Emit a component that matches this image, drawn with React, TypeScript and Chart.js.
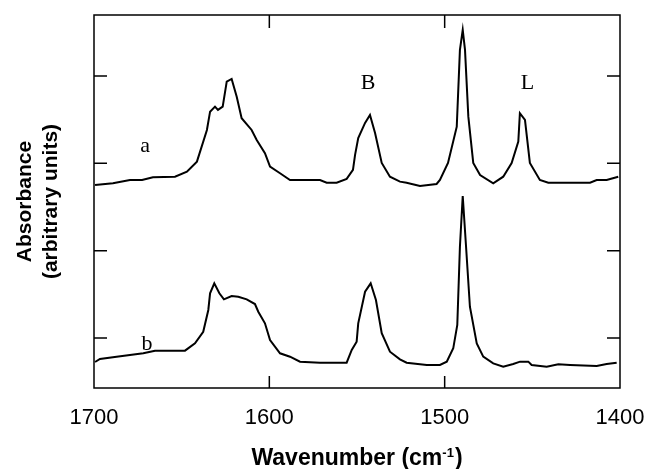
import React, { useEffect, useRef } from "react";
import { Chart, registerables } from "chart.js";

Chart.register(...registerables);

// Spectrum a (upper trace)
const aWavenumber = [
  1699.4, 1689.2, 1679.5, 1672.6, 1666.4, 1653.8, 1647.0, 1641.3, 1635.6, 1633.8,
  1631.0, 1629.3, 1626.6, 1624.3, 1621.5, 1618.6, 1615.8, 1610.1, 1607.2, 1602.5,
  1599.6, 1593.9, 1588.2, 1571.1, 1567.3, 1561.6, 1555.9, 1552.3, 1551.1, 1549.3,
  1545.4, 1542.6, 1539.7, 1535.9, 1531.2, 1525.5, 1521.7, 1514.1, 1504.6, 1502.7,
  1498.1, 1493.1, 1491.3, 1489.7, 1488.4, 1486.5, 1483.7, 1479.8, 1472.3, 1466.6,
  1461.8, 1458.0, 1457.1, 1454.2, 1451.4, 1445.7, 1440.9, 1417.1, 1413.3, 1407.6,
  1401.0,
];
const aAbsorbance = [
  1.752, 1.771, 1.809, 1.809, 1.840, 1.847, 1.904, 2.019, 2.382, 2.591,
  2.649, 2.611, 2.649, 2.935, 2.966, 2.763, 2.516, 2.382, 2.267, 2.115,
  1.962, 1.886, 1.809, 1.809, 1.778, 1.778, 1.821, 1.924, 2.096, 2.290,
  2.462, 2.553, 2.347, 2.004, 1.847, 1.790, 1.778, 1.741, 1.763, 1.809,
  2.004, 2.420, 3.298, 3.527, 3.298, 2.534, 2.004, 1.866, 1.771, 1.847,
  2.004, 2.248, 2.573, 2.496, 2.004, 1.809, 1.778, 1.778, 1.809, 1.809,
  1.847,
];

// Spectrum b (lower trace)
const bWavenumber = [
  1699.4, 1696.6, 1687.1, 1679.5, 1671.9, 1665.2, 1648.1, 1642.4, 1637.7, 1634.8,
  1633.8, 1631.4, 1628.5, 1625.9, 1621.5, 1617.7, 1612.9, 1608.2, 1606.3, 1602.5,
  1599.6, 1593.9, 1588.2, 1582.5, 1571.1, 1555.9, 1553.0, 1550.2, 1549.3, 1545.4,
  1542.2, 1539.2, 1535.9, 1531.2, 1525.5, 1521.7, 1510.2, 1502.7, 1498.8, 1495.1,
  1492.8, 1491.3, 1489.7, 1487.8, 1485.6, 1481.7, 1478.0, 1472.3, 1466.6, 1460.9,
  1457.0, 1452.3, 1450.4, 1441.8, 1435.2, 1428.5, 1413.3, 1407.6, 1401.9,
];
const bAbsorbance = [
  -0.275, -0.240, -0.214, -0.195, -0.175, -0.145, -0.145, -0.061, 0.072, 0.321,
  0.512, 0.626, 0.512, 0.443, 0.481, 0.473, 0.443, 0.389, 0.301, 0.168,
  -0.023, -0.175, -0.214, -0.271, -0.283, -0.283, -0.137, -0.042, 0.168, 0.530,
  0.626, 0.435, 0.054, -0.157, -0.244, -0.283, -0.309, -0.309, -0.271, -0.118,
  0.149, 1.045, 1.626, 1.045, 0.358, -0.061, -0.214, -0.290, -0.329, -0.298,
  -0.271, -0.271, -0.309, -0.329, -0.301, -0.309, -0.321, -0.298, -0.283,
];

const xMin = 1400;
const xMax = 1700;
const xStep = 100;
const xInnerTicks = [1600, 1500];
const yMin = -0.5725;
const yMax = 3.698;
const yInnerTicks = [0, 1, 2, 3];

const traceLabels = ["a", "b", "B", "L"];
const traceLabelWn = [1670.9, 1669.8, 1543.7, 1452.8];
const traceLabelAbs = [2.13, -0.137, 2.851, 2.851];

const yTitleLines = ["Absorbance", "(arbitrary units)"];
const xTitleMain = "Wavenumber (cm";
const xTitleSup = "-1";
const xTitleEnd = ")";

const SANS = '"Liberation Sans", Arial, sans-serif';
const SERIF = '"Liberation Serif", "Times New Roman", serif';

const framePlugin = {
  id: "frameAndLabels",
  afterDraw(chart: any) {
    const { ctx, chartArea, scales } = chart;
    const { left, right, top, bottom } = chartArea;
    const x = scales.x;
    const y = scales.y;
    ctx.save();
    ctx.strokeStyle = "#000";
    ctx.lineWidth = 1.5;
    ctx.strokeRect(left, top, right - left, bottom - top);
    ctx.beginPath();
    xInnerTicks.forEach((v) => {
      const px = x.getPixelForValue(v);
      ctx.moveTo(px, top);
      ctx.lineTo(px, top + 13);
      ctx.moveTo(px, bottom);
      ctx.lineTo(px, bottom - 12);
    });
    yInnerTicks.forEach((v) => {
      const py = y.getPixelForValue(v);
      ctx.moveTo(left, py);
      ctx.lineTo(left + 13, py);
      ctx.moveTo(right, py);
      ctx.lineTo(right - 13, py);
    });
    ctx.stroke();

    ctx.fillStyle = "#000";
    ctx.font = `22px ${SERIF}`;
    ctx.textAlign = "center";
    ctx.textBaseline = "alphabetic";
    traceLabels.forEach((t, i) => {
      ctx.fillText(t, x.getPixelForValue(traceLabelWn[i]), y.getPixelForValue(traceLabelAbs[i]));
    });

    // x-axis title with superscript
    const mainFont = `bold 23px ${SANS}`;
    const supFont = `bold 13px ${SANS}`;
    ctx.textAlign = "left";
    ctx.font = mainFont;
    const w1 = ctx.measureText(xTitleMain).width;
    const w3 = ctx.measureText(xTitleEnd).width;
    ctx.font = supFont;
    const w2 = ctx.measureText(xTitleSup).width;
    const total = w1 + w2 + w3 + 1;
    const cx = (left + right) / 2;
    const baseY = x.bottom - 4;
    let sx = cx - total / 2;
    ctx.font = mainFont;
    ctx.fillText(xTitleMain, sx, baseY);
    sx += w1;
    ctx.font = supFont;
    ctx.fillText(xTitleSup, sx, baseY - 8);
    sx += w2 + 1;
    ctx.font = mainFont;
    ctx.fillText(xTitleEnd, sx, baseY);
    ctx.restore();
  },
};

export default function App() {
  const canvasRef = useRef<HTMLCanvasElement | null>(null);

  useEffect(() => {
    const canvas = canvasRef.current;
    if (!canvas) return;
    const chart = new Chart(canvas, {
      type: "line",
      data: {
        datasets: [
          {
            label: "a",
            data: aWavenumber.map((w, i) => ({ x: w, y: aAbsorbance[i] })),
            borderColor: "#000",
            borderWidth: 2,
            pointRadius: 0,
            tension: 0,
            fill: false,
          },
          {
            label: "b",
            data: bWavenumber.map((w, i) => ({ x: w, y: bAbsorbance[i] })),
            borderColor: "#000",
            borderWidth: 2,
            pointRadius: 0,
            tension: 0,
            fill: false,
          },
        ],
      },
      options: {
        responsive: false,
        animation: false,
        layout: { padding: { top: 15, right: 28, left: 0, bottom: 0 } },
        plugins: {
          legend: { display: false },
          tooltip: { enabled: false },
        },
        scales: {
          x: {
            type: "linear",
            reverse: true,
            min: xMin,
            max: xMax,
            grid: { display: false, drawTicks: false },
            border: { display: false },
            ticks: {
              stepSize: xStep,
              padding: 17,
              color: "#000",
              font: { family: SANS, size: 22 },
              maxRotation: 0,
              autoSkip: false,
              callback: (value: any) => String(value),
            },
            afterFit: (scale: any) => {
              scale.height = 81;
              scale.paddingLeft = 0;
              scale.paddingRight = 0;
            },
          },
          y: {
            type: "linear",
            min: yMin,
            max: yMax,
            grid: { display: false, drawTicks: false },
            border: { display: false },
            ticks: { display: false },
            title: {
              display: true,
              text: yTitleLines,
              color: "#000",
              font: { family: SANS, size: 21, weight: "bold" },
              padding: { top: 13, bottom: 0 },
            },
            afterFit: (scale: any) => {
              scale.width = 94;
            },
          },
        },
      },
      plugins: [framePlugin],
    });
    return () => chart.destroy();
  }, []);

  return (
    <div style={{ position: "fixed", left: 0, top: 0, width: 648, height: 469, background: "#fff" }}>
      <canvas ref={canvasRef} width={648} height={469} style={{ display: "block" }} />
    </div>
  );
}
